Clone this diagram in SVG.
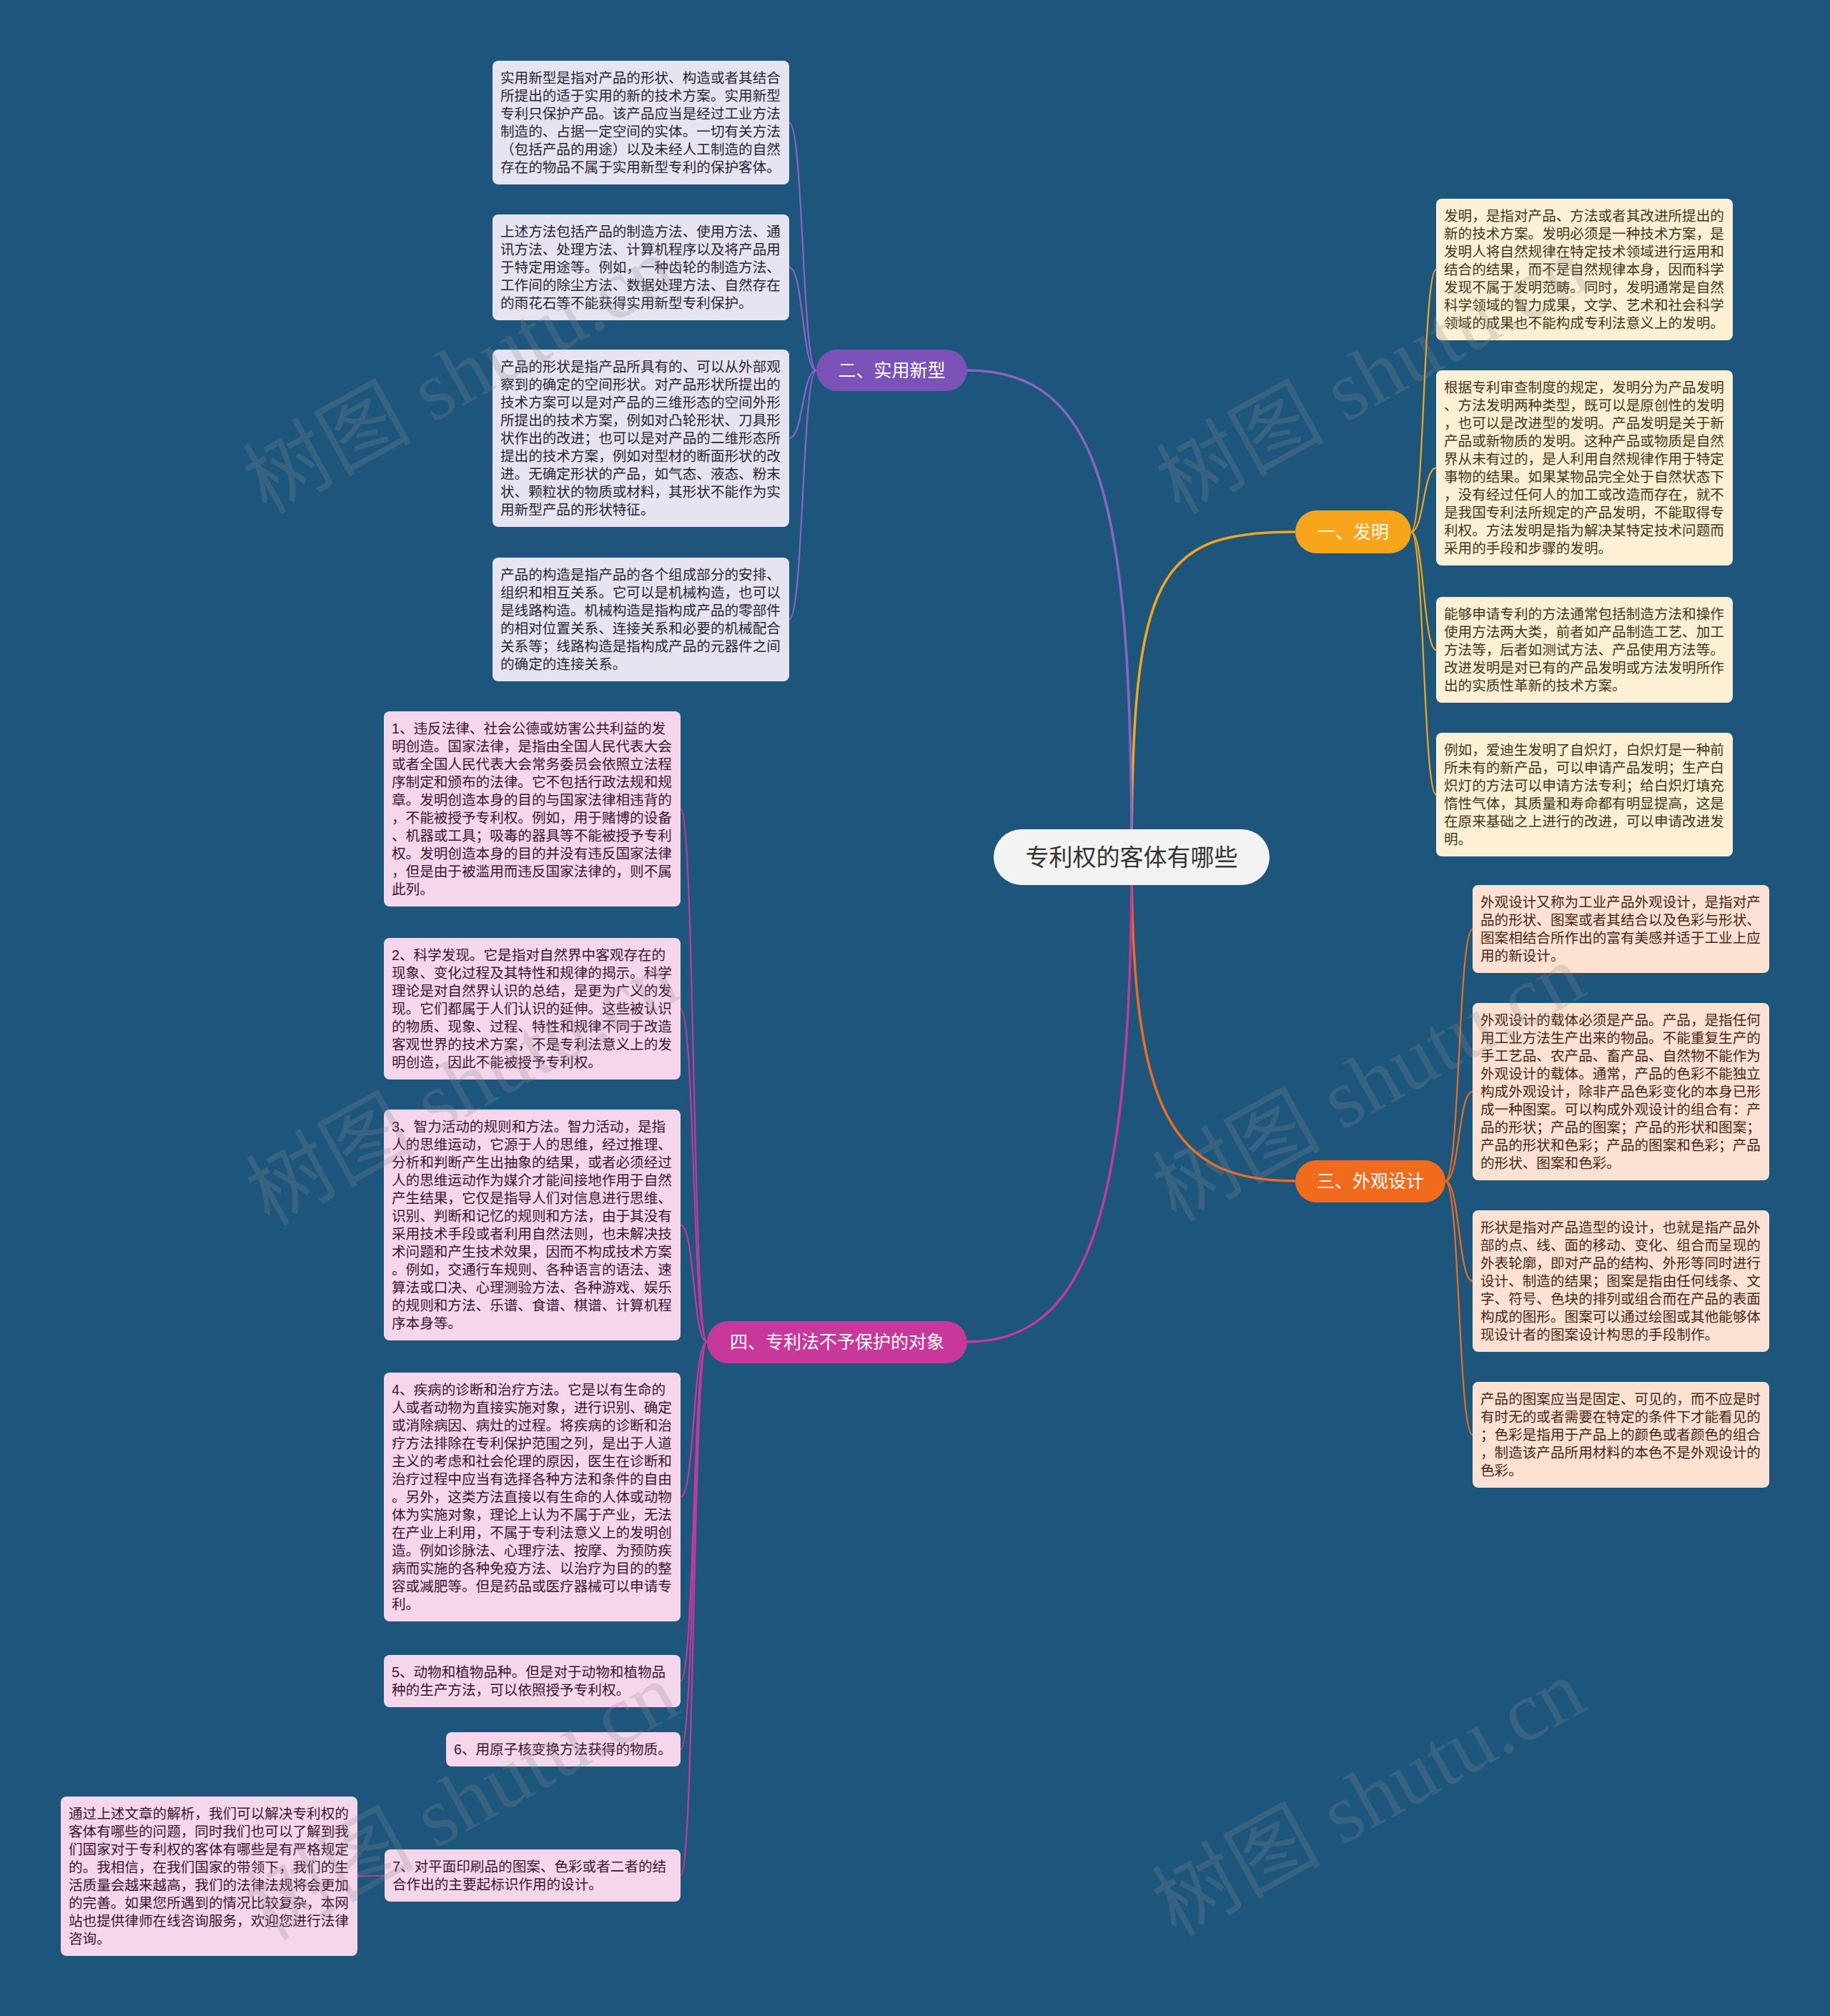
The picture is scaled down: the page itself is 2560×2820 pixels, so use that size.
<svg xmlns="http://www.w3.org/2000/svg" width="2560" height="2820" viewBox="0 0 2560 2820">
<style>
.bg{fill:#1c567c}
.t{font-family:"Liberation Sans","Noto Sans CJK SC",sans-serif;font-size:19.6px}
.leafP{fill:#e7e4f2}.tP{fill:#2a2533}
.leafB{fill:#fdf0d5}.tB{fill:#43361a}
.leafA{fill:#fde2d3}.tA{fill:#4a2516}
.leafK{fill:#f5d6ea}.tK{fill:#3d1433}
.br{font-family:"Liberation Sans","Noto Sans CJK SC",sans-serif;font-size:25px;fill:#ffffff;text-anchor:middle}
.root{font-family:"Liberation Sans","Noto Sans CJK SC",sans-serif;font-size:33px;fill:#333333;text-anchor:middle}
.c{fill:none}
.wm{font-family:"Liberation Serif","Noto Sans CJK SC",serif;font-size:118px;fill:#8c8c8c;opacity:0.25;text-anchor:middle}
</style>
<rect class="bg" x="0" y="0" width="2560" height="2820"/>

<g id="connectors">
<path class="c" stroke="#f8a51c" stroke-width="3.5" d="M1583,1199 C1583,800 1620,744 1812,744"/>
<path class="c" stroke="#8c63c6" stroke-width="3.5" d="M1583,1199 C1583,700 1540,518 1353,518"/>
<path class="c" stroke="#f26b1d" stroke-width="3.5" d="M1583,1199 C1583,1560 1640,1652 1812,1652"/>
<path class="c" stroke="#c8389b" stroke-width="3.5" d="M1583,1199 C1583,1700 1520,1877 1353,1877"/>

<g stroke="#8c63c6" stroke-width="2.2" fill="none">
<path d="M1142,518 C1122,518 1124,171.5 1104,171.5"/>
<path d="M1142,518 C1122,518 1124,374 1104,374"/>
<path d="M1142,518 C1122,518 1124,613 1104,613"/>
<path d="M1142,518 C1122,518 1124,866.5 1104,866.5"/>
</g>
<g stroke="#f8a51c" stroke-width="2.2" fill="none">
<path d="M1974,744 C1992,744 1991,377 2009,377"/>
<path d="M1974,744 C1992,744 1991,654.5 2009,654.5"/>
<path d="M1974,744 C1992,744 1991,909 2009,909"/>
<path d="M1974,744 C1992,744 1991,1111.5 2009,1111.5"/>
</g>
<g stroke="#f26b1d" stroke-width="2.2" fill="none">
<path d="M2022,1652 C2042,1652 2040,1299.5 2060,1299.5"/>
<path d="M2022,1652 C2042,1652 2040,1527 2060,1527"/>
<path d="M2022,1652 C2042,1652 2040,1792 2060,1792"/>
<path d="M2022,1652 C2042,1652 2040,2007 2060,2007"/>
</g>
<g stroke="#c8389b" stroke-width="2.2" fill="none">
<path d="M989,1877 C969,1877 972,1131.5 952,1131.5"/>
<path d="M989,1877 C969,1877 972,1411 952,1411"/>
<path d="M989,1877 C969,1877 972,1713.5 952,1713.5"/>
<path d="M989,1877 C969,1877 972,2094 952,2094"/>
<path d="M989,1877 C969,1877 972,2351.5 952,2351.5"/>
<path d="M989,1877 C969,1877 972,2447 952,2447"/>
<path d="M989,1877 C969,1877 972,2623.5 952,2623.5"/>
<path d="M538,2623.5 C519,2623.5 519,2624.5 500,2624.5"/>
</g>
</g>

<g id="root">
<rect x="1390" y="1160" width="386" height="78" rx="39" fill="#f3f3f3"/>
<text class="root" x="1583" y="1211">专利权的客体有哪些</text>
</g>

<g id="b1">
<rect x="1812" y="714" width="162" height="60" rx="30" fill="#f8a51c"/>
<text class="br" x="1893" y="753">一、发明</text>
</g>
<g id="b2">
<rect x="1142" y="489" width="211" height="58" rx="29" fill="#7b52b8"/>
<text class="br" x="1247.5" y="527">二、实用新型</text>
</g>
<g id="b3">
<rect x="1812" y="1623" width="210" height="59" rx="29.5" fill="#f26b1d"/>
<text class="br" x="1917" y="1661">三、外观设计</text>
</g>
<g id="b4">
<rect x="989" y="1848" width="364" height="59" rx="29.5" fill="#c8389b"/>
<text class="br" x="1171" y="1886">四、专利法不予保护的对象</text>
</g>

<g id="p1">
<rect class="leafP" x="689" y="85" width="415" height="173" rx="8"/>
<text class="t tP" x="700" y="116"><tspan x="700">实用新型是指对产品的形状、构造或者其结合</tspan><tspan x="700" dy="25">所提出的适于实用的新的技术方案。实用新型</tspan><tspan x="700" dy="25">专利只保护产品。该产品应当是经过工业方法</tspan><tspan x="700" dy="25">制造的、占据一定空间的实体。一切有关方法</tspan><tspan x="700" dy="25">（包括产品的用途）以及未经人工制造的自然</tspan><tspan x="700" dy="25">存在的物品不属于实用新型专利的保护客体。</tspan></text>
</g>
<g id="p2">
<rect class="leafP" x="689" y="300" width="415" height="148" rx="8"/>
<text class="t tP" x="700" y="331"><tspan x="700">上述方法包括产品的制造方法、使用方法、通</tspan><tspan x="700" dy="25">讯方法、处理方法、计算机程序以及将产品用</tspan><tspan x="700" dy="25">于特定用途等。例如，一种齿轮的制造方法、</tspan><tspan x="700" dy="25">工作间的除尘方法、数据处理方法、自然存在</tspan><tspan x="700" dy="25">的雨花石等不能获得实用新型专利保护。</tspan></text>
</g>
<g id="p3">
<rect class="leafP" x="689" y="489" width="415" height="248" rx="8"/>
<text class="t tP" x="700" y="520"><tspan x="700">产品的形状是指产品所具有的、可以从外部观</tspan><tspan x="700" dy="25">察到的确定的空间形状。对产品形状所提出的</tspan><tspan x="700" dy="25">技术方案可以是对产品的三维形态的空间外形</tspan><tspan x="700" dy="25">所提出的技术方案，例如对凸轮形状、刀具形</tspan><tspan x="700" dy="25">状作出的改进；也可以是对产品的二维形态所</tspan><tspan x="700" dy="25">提出的技术方案，例如对型材的断面形状的改</tspan><tspan x="700" dy="25">进。无确定形状的产品，如气态、液态、粉末</tspan><tspan x="700" dy="25">状、颗粒状的物质或材料，其形状不能作为实</tspan><tspan x="700" dy="25">用新型产品的形状特征。</tspan></text>
</g>
<g id="p4">
<rect class="leafP" x="689" y="780" width="415" height="173" rx="8"/>
<text class="t tP" x="700" y="811"><tspan x="700">产品的构造是指产品的各个组成部分的安排、</tspan><tspan x="700" dy="25">组织和相互关系。它可以是机械构造，也可以</tspan><tspan x="700" dy="25">是线路构造。机械构造是指构成产品的零部件</tspan><tspan x="700" dy="25">的相对位置关系、连接关系和必要的机械配合</tspan><tspan x="700" dy="25">关系等；线路构造是指构成产品的元器件之间</tspan><tspan x="700" dy="25">的确定的连接关系。</tspan></text>
</g>

<g id="i1">
<rect class="leafB" x="2009" y="278" width="415" height="198" rx="8"/>
<text class="t tB" x="2020" y="309"><tspan x="2020">发明，是指对产品、方法或者其改进所提出的</tspan><tspan x="2020" dy="25">新的技术方案。发明必须是一种技术方案，是</tspan><tspan x="2020" dy="25">发明人将自然规律在特定技术领域进行运用和</tspan><tspan x="2020" dy="25">结合的结果，而不是自然规律本身，因而科学</tspan><tspan x="2020" dy="25">发现不属于发明范畴。同时，发明通常是自然</tspan><tspan x="2020" dy="25">科学领域的智力成果，文学、艺术和社会科学</tspan><tspan x="2020" dy="25">领域的成果也不能构成专利法意义上的发明。</tspan></text>
</g>
<g id="i2">
<rect class="leafB" x="2009" y="518" width="415" height="273" rx="8"/>
<text class="t tB" x="2020" y="549"><tspan x="2020">根据专利审查制度的规定，发明分为产品发明</tspan><tspan x="2020" dy="25">、方法发明两种类型，既可以是原创性的发明</tspan><tspan x="2020" dy="25">，也可以是改进型的发明。产品发明是关于新</tspan><tspan x="2020" dy="25">产品或新物质的发明。这种产品或物质是自然</tspan><tspan x="2020" dy="25">界从未有过的，是人利用自然规律作用于特定</tspan><tspan x="2020" dy="25">事物的结果。如果某物品完全处于自然状态下</tspan><tspan x="2020" dy="25">，没有经过任何人的加工或改造而存在，就不</tspan><tspan x="2020" dy="25">是我国专利法所规定的产品发明，不能取得专</tspan><tspan x="2020" dy="25">利权。方法发明是指为解决某特定技术问题而</tspan><tspan x="2020" dy="25">采用的手段和步骤的发明。</tspan></text>
</g>
<g id="i3">
<rect class="leafB" x="2009" y="835" width="415" height="148" rx="8"/>
<text class="t tB" x="2020" y="866"><tspan x="2020">能够申请专利的方法通常包括制造方法和操作</tspan><tspan x="2020" dy="25">使用方法两大类，前者如产品制造工艺、加工</tspan><tspan x="2020" dy="25">方法等，后者如测试方法、产品使用方法等。</tspan><tspan x="2020" dy="25">改进发明是对已有的产品发明或方法发明所作</tspan><tspan x="2020" dy="25">出的实质性革新的技术方案。</tspan></text>
</g>
<g id="i4">
<rect class="leafB" x="2009" y="1025" width="415" height="173" rx="8"/>
<text class="t tB" x="2020" y="1056"><tspan x="2020">例如，爱迪生发明了自炽灯，白炽灯是一种前</tspan><tspan x="2020" dy="25">所未有的新产品，可以申请产品发明；生产白</tspan><tspan x="2020" dy="25">炽灯的方法可以申请方法专利；给白炽灯填充</tspan><tspan x="2020" dy="25">惰性气体，其质量和寿命都有明显提高，这是</tspan><tspan x="2020" dy="25">在原来基础之上进行的改进，可以申请改进发</tspan><tspan x="2020" dy="25">明。</tspan></text>
</g>

<g id="a1">
<rect class="leafA" x="2060" y="1238" width="415" height="123" rx="8"/>
<text class="t tA" x="2071" y="1269"><tspan x="2071">外观设计又称为工业产品外观设计，是指对产</tspan><tspan x="2071" dy="25">品的形状、图案或者其结合以及色彩与形状、</tspan><tspan x="2071" dy="25">图案相结合所作出的富有美感并适于工业上应</tspan><tspan x="2071" dy="25">用的新设计。</tspan></text>
</g>
<g id="a2">
<rect class="leafA" x="2060" y="1403" width="415" height="248" rx="8"/>
<text class="t tA" x="2071" y="1434"><tspan x="2071">外观设计的载体必须是产品。产品，是指任何</tspan><tspan x="2071" dy="25">用工业方法生产出来的物品。不能重复生产的</tspan><tspan x="2071" dy="25">手工艺品、农产品、畜产品、自然物不能作为</tspan><tspan x="2071" dy="25">外观设计的载体。通常，产品的色彩不能独立</tspan><tspan x="2071" dy="25">构成外观设计，除非产品色彩变化的本身已形</tspan><tspan x="2071" dy="25">成一种图案。可以构成外观设计的组合有：产</tspan><tspan x="2071" dy="25">品的形状；产品的图案；产品的形状和图案；</tspan><tspan x="2071" dy="25">产品的形状和色彩；产品的图案和色彩；产品</tspan><tspan x="2071" dy="25">的形状、图案和色彩。</tspan></text>
</g>
<g id="a3">
<rect class="leafA" x="2060" y="1693" width="415" height="198" rx="8"/>
<text class="t tA" x="2071" y="1724"><tspan x="2071">形状是指对产品造型的设计，也就是指产品外</tspan><tspan x="2071" dy="25">部的点、线、面的移动、变化、组合而呈现的</tspan><tspan x="2071" dy="25">外表轮廓，即对产品的结构、外形等同时进行</tspan><tspan x="2071" dy="25">设计、制造的结果；图案是指由任何线条、文</tspan><tspan x="2071" dy="25">字、符号、色块的排列或组合而在产品的表面</tspan><tspan x="2071" dy="25">构成的图形。图案可以通过绘图或其他能够体</tspan><tspan x="2071" dy="25">现设计者的图案设计构思的手段制作。</tspan></text>
</g>
<g id="a4">
<rect class="leafA" x="2060" y="1933" width="415" height="148" rx="8"/>
<text class="t tA" x="2071" y="1964"><tspan x="2071">产品的图案应当是固定、可见的，而不应是时</tspan><tspan x="2071" dy="25">有时无的或者需要在特定的条件下才能看见的</tspan><tspan x="2071" dy="25">；色彩是指用于产品上的颜色或者颜色的组合</tspan><tspan x="2071" dy="25">，制造该产品所用材料的本色不是外观设计的</tspan><tspan x="2071" dy="25">色彩。</tspan></text>
</g>

<g id="k1">
<rect class="leafK" x="537" y="995" width="415" height="273" rx="8"/>
<text class="t tK" x="548" y="1026"><tspan x="548">1、违反法律、社会公德或妨害公共利益的发</tspan><tspan x="548" dy="25">明创造。国家法律，是指由全国人民代表大会</tspan><tspan x="548" dy="25">或者全国人民代表大会常务委员会依照立法程</tspan><tspan x="548" dy="25">序制定和颁布的法律。它不包括行政法规和规</tspan><tspan x="548" dy="25">章。发明创造本身的目的与国家法律相违背的</tspan><tspan x="548" dy="25">，不能被授予专利权。例如，用于赌博的设备</tspan><tspan x="548" dy="25">、机器或工具；吸毒的器具等不能被授予专利</tspan><tspan x="548" dy="25">权。发明创造本身的目的并没有违反国家法律</tspan><tspan x="548" dy="25">，但是由于被滥用而违反国家法律的，则不属</tspan><tspan x="548" dy="25">此列。</tspan></text>
</g>
<g id="k2">
<rect class="leafK" x="537" y="1312" width="415" height="198" rx="8"/>
<text class="t tK" x="548" y="1343"><tspan x="548">2、科学发现。它是指对自然界中客观存在的</tspan><tspan x="548" dy="25">现象、变化过程及其特性和规律的揭示。科学</tspan><tspan x="548" dy="25">理论是对自然界认识的总结，是更为广义的发</tspan><tspan x="548" dy="25">现。它们都属于人们认识的延伸。这些被认识</tspan><tspan x="548" dy="25">的物质、现象、过程、特性和规律不同于改造</tspan><tspan x="548" dy="25">客观世界的技术方案，不是专利法意义上的发</tspan><tspan x="548" dy="25">明创造，因此不能被授予专利权。</tspan></text>
</g>
<g id="k3">
<rect class="leafK" x="537" y="1552" width="415" height="323" rx="8"/>
<text class="t tK" x="548" y="1583"><tspan x="548">3、智力活动的规则和方法。智力活动，是指</tspan><tspan x="548" dy="25">人的思维运动，它源于人的思维，经过推理、</tspan><tspan x="548" dy="25">分析和判断产生出抽象的结果，或者必须经过</tspan><tspan x="548" dy="25">人的思维运动作为媒介才能间接地作用于自然</tspan><tspan x="548" dy="25">产生结果，它仅是指导人们对信息进行思维、</tspan><tspan x="548" dy="25">识别、判断和记忆的规则和方法，由于其没有</tspan><tspan x="548" dy="25">采用技术手段或者利用自然法则，也未解决技</tspan><tspan x="548" dy="25">术问题和产生技术效果，因而不构成技术方案</tspan><tspan x="548" dy="25">。例如，交通行车规则、各种语言的语法、速</tspan><tspan x="548" dy="25">算法或口决、心理测验方法、各种游戏、娱乐</tspan><tspan x="548" dy="25">的规则和方法、乐谱、食谱、棋谱、计算机程</tspan><tspan x="548" dy="25">序本身等。</tspan></text>
</g>
<g id="k4">
<rect class="leafK" x="537" y="1920" width="415" height="348" rx="8"/>
<text class="t tK" x="548" y="1951"><tspan x="548">4、疾病的诊断和治疗方法。它是以有生命的</tspan><tspan x="548" dy="25">人或者动物为直接实施对象，进行识别、确定</tspan><tspan x="548" dy="25">或消除病因、病灶的过程。将疾病的诊断和治</tspan><tspan x="548" dy="25">疗方法排除在专利保护范围之列，是出于人道</tspan><tspan x="548" dy="25">主义的考虑和社会伦理的原因，医生在诊断和</tspan><tspan x="548" dy="25">治疗过程中应当有选择各种方法和条件的自由</tspan><tspan x="548" dy="25">。另外，这类方法直接以有生命的人体或动物</tspan><tspan x="548" dy="25">体为实施对象，理论上认为不属于产业，无法</tspan><tspan x="548" dy="25">在产业上利用，不属于专利法意义上的发明创</tspan><tspan x="548" dy="25">造。例如诊脉法、心理疗法、按摩、为预防疾</tspan><tspan x="548" dy="25">病而实施的各种免疫方法、以治疗为目的的整</tspan><tspan x="548" dy="25">容或减肥等。但是药品或医疗器械可以申请专</tspan><tspan x="548" dy="25">利。</tspan></text>
</g>
<g id="k5">
<rect class="leafK" x="537" y="2315" width="415" height="73" rx="8"/>
<text class="t tK" x="548" y="2346"><tspan x="548">5、动物和植物品种。但是对于动物和植物品</tspan><tspan x="548" dy="25">种的生产方法，可以依照授予专利权。</tspan></text>
</g>
<g id="k6">
<rect class="leafK" x="624" y="2423" width="328" height="48" rx="8"/>
<text class="t tK" x="635" y="2454">6、用原子核变换方法获得的物质。</text>
</g>
<g id="k7">
<rect class="leafK" x="538" y="2587" width="414" height="73" rx="8"/>
<text class="t tK" x="549" y="2618"><tspan x="549">7、对平面印刷品的图案、色彩或者二者的结</tspan><tspan x="549" dy="25">合作出的主要起标识作用的设计。</tspan></text>
</g>
<g id="k8">
<rect class="leafK" x="85" y="2513" width="415" height="223" rx="8"/>
<text class="t tK" x="96" y="2544"><tspan x="96">通过上述文章的解析，我们可以解决专利权的</tspan><tspan x="96" dy="25">客体有哪些的问题，同时我们也可以了解到我</tspan><tspan x="96" dy="25">们国家对于专利权的客体有哪些是有严格规定</tspan><tspan x="96" dy="25">的。我相信，在我们国家的带领下，我们的生</tspan><tspan x="96" dy="25">活质量会越来越高，我们的法律法规将会更加</tspan><tspan x="96" dy="25">的完善。如果您所遇到的情况比较复杂，本网</tspan><tspan x="96" dy="25">站也提供律师在线咨询服务，欢迎您进行法律</tspan><tspan x="96" dy="25">咨询。</tspan></text>
</g>

<g id="watermarks">
<text class="wm" transform="translate(662,560) rotate(-29)">树图 shutu.cn</text>
<text class="wm" transform="translate(1939,560) rotate(-29)">树图 shutu.cn</text>
<text class="wm" transform="translate(666,1555) rotate(-29)">树图 shutu.cn</text>
<text class="wm" transform="translate(1934,1550) rotate(-29)">树图 shutu.cn</text>
<text class="wm" transform="translate(666,2555) rotate(-29)">树图 shutu.cn</text>
<text class="wm" transform="translate(1934,2550) rotate(-29)">树图 shutu.cn</text>
</g>
</svg>
